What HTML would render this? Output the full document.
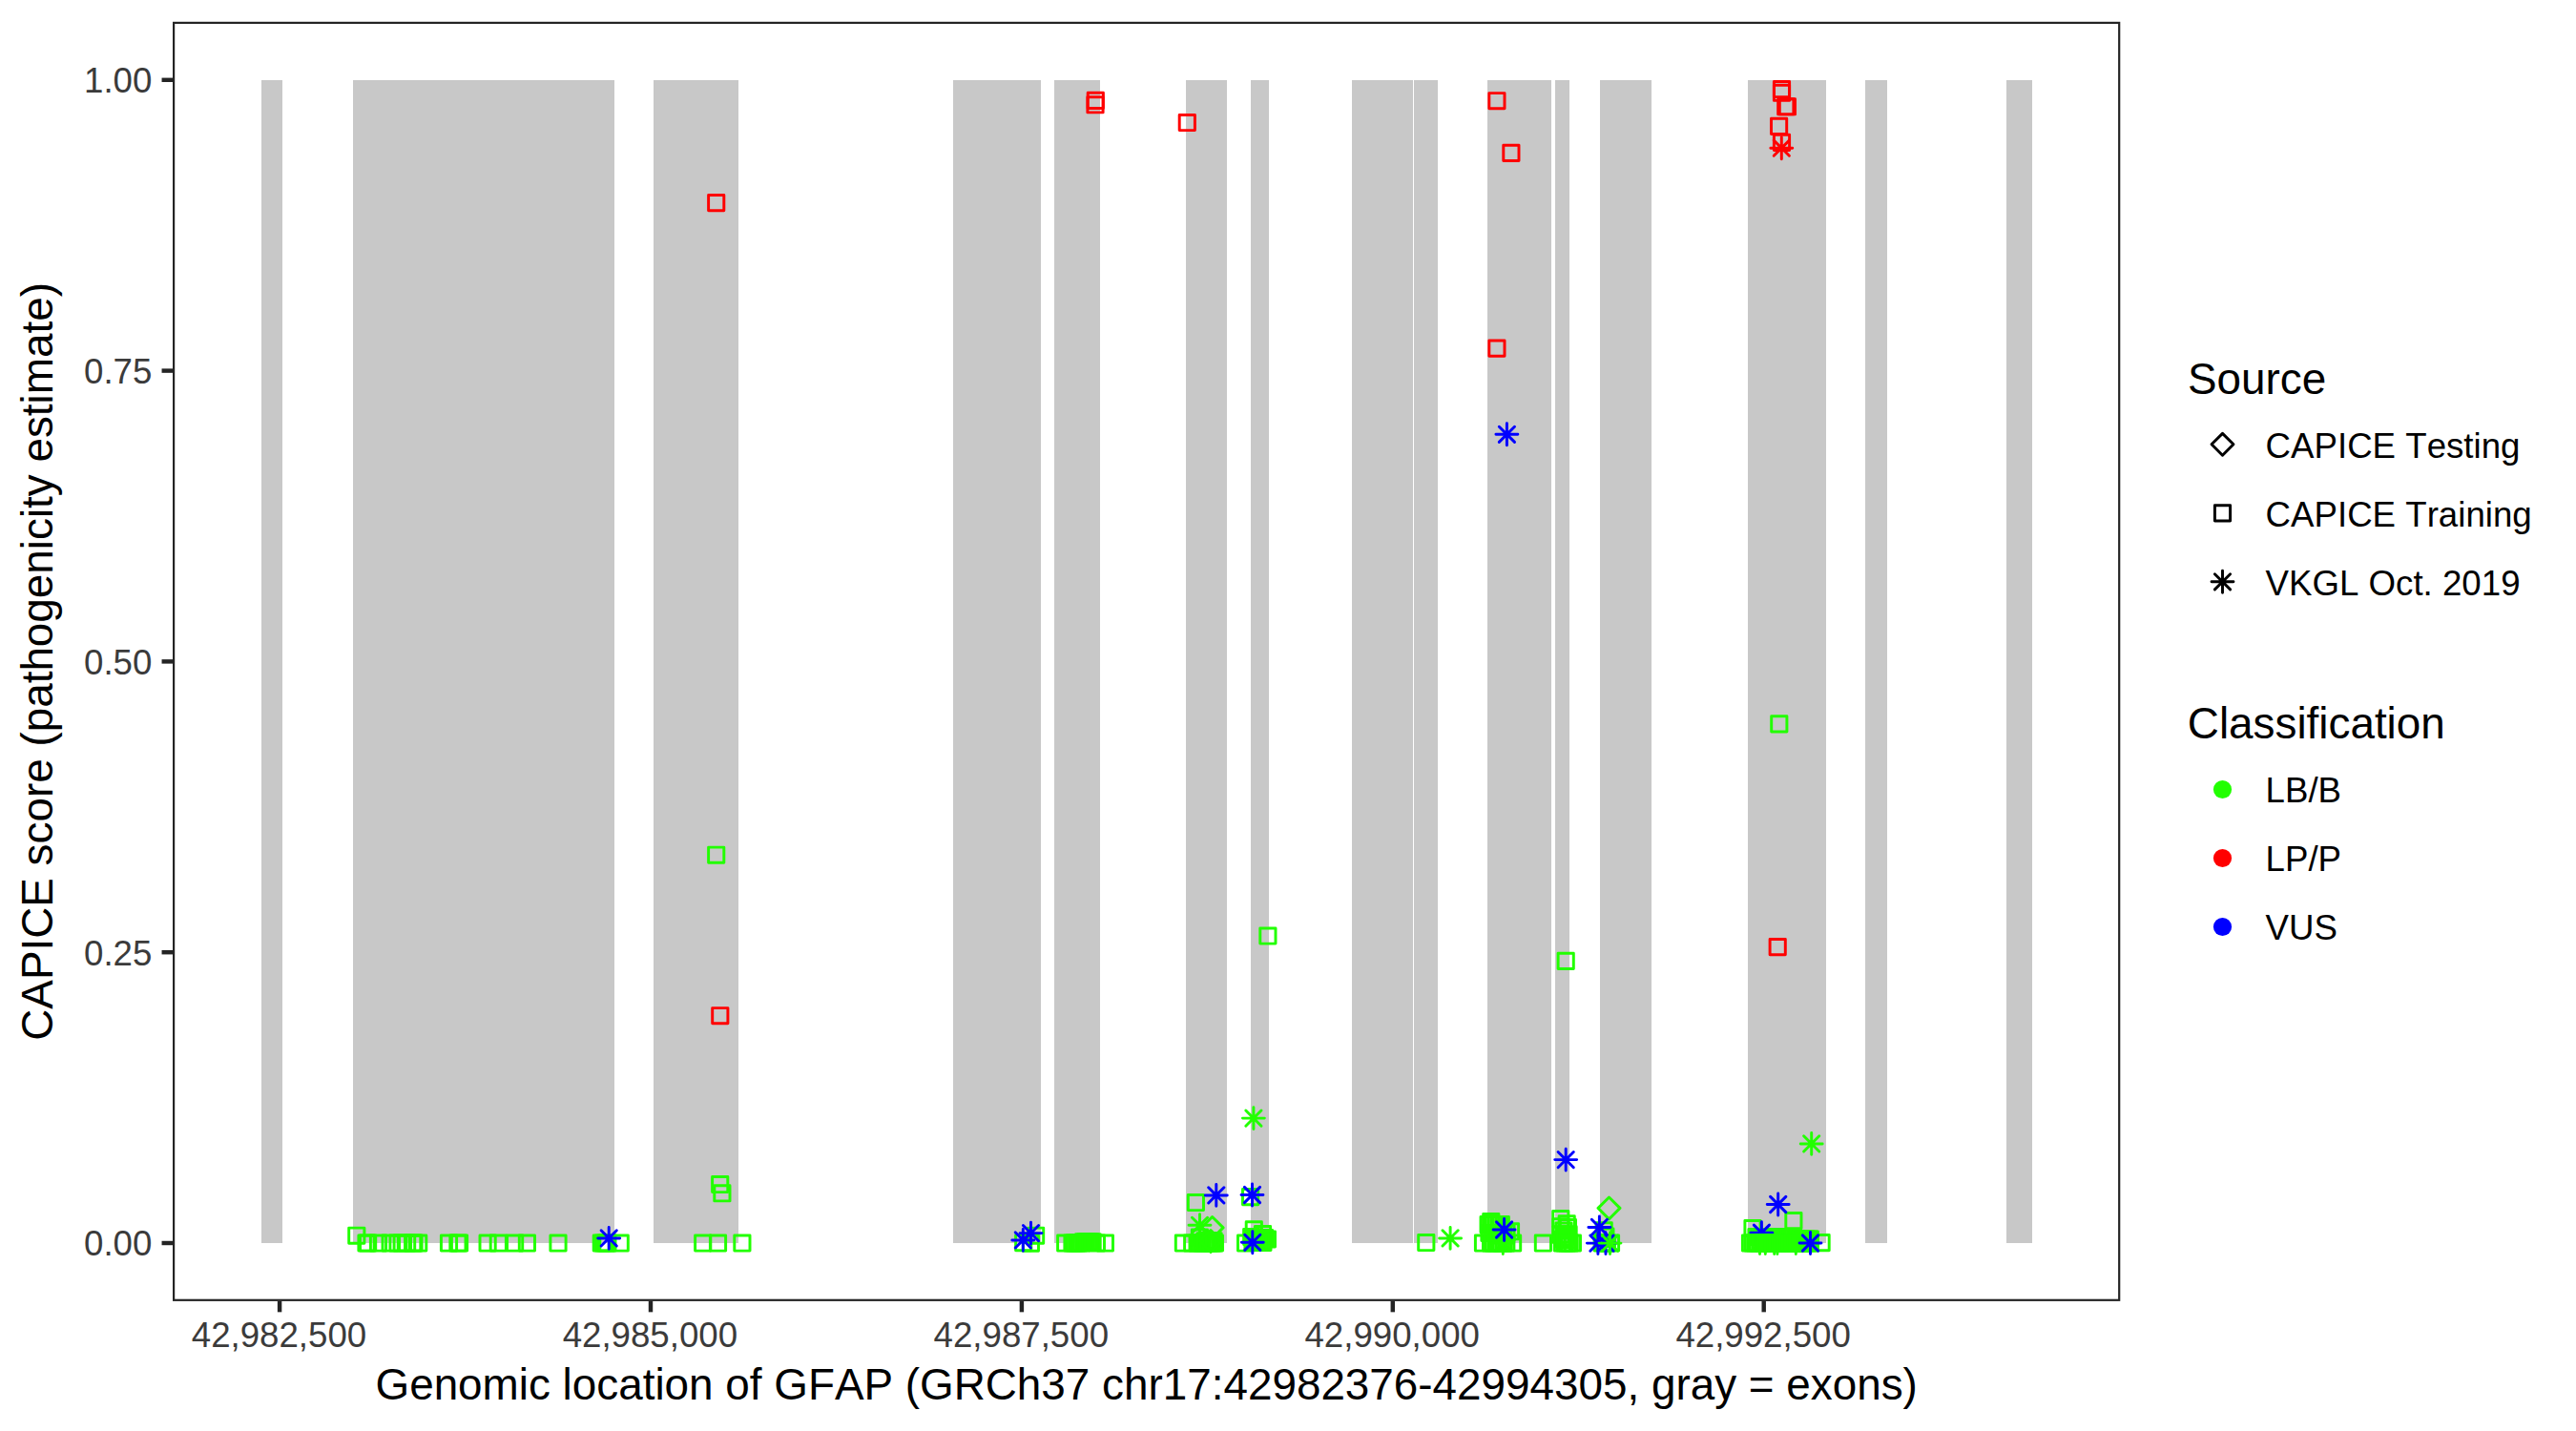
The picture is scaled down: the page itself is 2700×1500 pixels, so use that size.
<!DOCTYPE html>
<html><head><meta charset="utf-8"><title>CAPICE GFAP</title>
<style>
html,body{margin:0;padding:0;background:#fff}
svg{display:block}
text{font-family:"Liberation Sans",Arial,Helvetica,sans-serif;font-kerning:none;font-variant-ligatures:none}
.tk{font-size:36.67px;fill:#3B3B3B}
.lt{font-size:36.67px;fill:#000}
.ti{font-size:45.83px;fill:#000}
.pt *{fill:none;stroke-width:2.95;stroke-linejoin:round;stroke-linecap:round}
</style></head><body>
<svg width="2700" height="1500" viewBox="0 0 2700 1500">
<rect width="2700" height="1500" fill="#fff"/>
<g fill="#C8C8C8" shape-rendering="crispEdges">
<rect x="274" y="83.8" width="21.8" height="1219.2"/>
<rect x="370.1" y="83.8" width="273.7" height="1219.2"/>
<rect x="685" y="83.8" width="88.8" height="1219.2"/>
<rect x="999" y="83.8" width="91.8" height="1219.2"/>
<rect x="1105" y="83.8" width="47.7" height="1219.2"/>
<rect x="1243.1" y="83.8" width="42.8" height="1219.2"/>
<rect x="1311" y="83.8" width="18.9" height="1219.2"/>
<rect x="1417.1" y="83.8" width="64.05" height="1219.2"/>
<rect x="1481.6" y="83.8" width="25.4" height="1219.2"/>
<rect x="1558.9" y="83.8" width="67" height="1219.2"/>
<rect x="1630.1" y="83.8" width="14.75" height="1219.2"/>
<rect x="1677" y="83.8" width="54" height="1219.2"/>
<rect x="1832" y="83.8" width="81.9" height="1219.2"/>
<rect x="1955.1" y="83.8" width="22.7" height="1219.2"/>
<rect x="2103" y="83.8" width="26.9" height="1219.2"/>
</g>
<g class="pt">
<rect x="742.6" y="204.5" width="16.2" height="16.2" stroke="#FF0000"/>
<rect x="1140.2" y="97.3" width="16.2" height="16.2" stroke="#FF0000"/>
<rect x="1139.9" y="101.7" width="16.2" height="16.2" stroke="#FF0000"/>
<rect x="1236.2" y="120.4" width="16.2" height="16.2" stroke="#FF0000"/>
<rect x="1560.8" y="97.6" width="16.2" height="16.2" stroke="#FF0000"/>
<rect x="1575.8" y="152.3" width="16.2" height="16.2" stroke="#FF0000"/>
<rect x="1560.8" y="357" width="16.2" height="16.2" stroke="#FF0000"/>
<rect x="1859.4" y="85.4" width="16.2" height="16.2" stroke="#FF0000"/>
<rect x="1859.4" y="89.2" width="16.2" height="16.2" stroke="#FF0000"/>
<rect x="1863.7" y="103.7" width="16.2" height="16.2" stroke="#FF0000"/>
<rect x="1865.3" y="103.7" width="16.2" height="16.2" stroke="#FF0000"/>
<rect x="1856.5" y="124.3" width="16.2" height="16.2" stroke="#FF0000"/>
<rect x="1859.4" y="141.2" width="16.2" height="16.2" stroke="#FF0000"/>
<path d="M1855.84 155.2h22.91M1867.3 143.74v22.91M1859.2 147.1l16.2 16.2M1859.2 163.3l16.2 -16.2" stroke="#FF0000"/>
<rect x="742.6" y="888.1" width="16.2" height="16.2" stroke="#22FF00"/>
<rect x="746.7" y="1056.6" width="16.2" height="16.2" stroke="#FF0000"/>
<rect x="746.6" y="1233.4" width="16.2" height="16.2" stroke="#22FF00"/>
<rect x="748.8" y="1242.7" width="16.2" height="16.2" stroke="#22FF00"/>
<rect x="1320.8" y="972.9" width="16.2" height="16.2" stroke="#22FF00"/>
<rect x="1633.1" y="999.2" width="16.2" height="16.2" stroke="#22FF00"/>
<rect x="1855.1" y="984.5" width="16.2" height="16.2" stroke="#FF0000"/>
<rect x="1856.7" y="750.8" width="16.2" height="16.2" stroke="#22FF00"/>
<path d="M1567.94 455.3h22.91M1579.4 443.84v22.91M1571.3 447.2l16.2 16.2M1571.3 463.4l16.2 -16.2" stroke="#0000FF"/>
<rect x="365.7" y="1287.1" width="16.2" height="16.2" stroke="#22FF00"/>
<rect x="375.9" y="1294.9" width="16.2" height="16.2" stroke="#22FF00"/>
<rect x="377.5" y="1294.9" width="16.2" height="16.2" stroke="#22FF00"/>
<rect x="388.4" y="1294.9" width="16.2" height="16.2" stroke="#22FF00"/>
<rect x="401" y="1294.9" width="16.2" height="16.2" stroke="#22FF00"/>
<rect x="408.9" y="1294.9" width="16.2" height="16.2" stroke="#22FF00"/>
<rect x="413.1" y="1294.9" width="16.2" height="16.2" stroke="#22FF00"/>
<rect x="418.5" y="1294.9" width="16.2" height="16.2" stroke="#22FF00"/>
<rect x="424.6" y="1294.9" width="16.2" height="16.2" stroke="#22FF00"/>
<rect x="425.9" y="1294.9" width="16.2" height="16.2" stroke="#22FF00"/>
<rect x="430.6" y="1294.9" width="16.2" height="16.2" stroke="#22FF00"/>
<rect x="462.4" y="1294.9" width="16.2" height="16.2" stroke="#22FF00"/>
<rect x="471.8" y="1294.9" width="16.2" height="16.2" stroke="#22FF00"/>
<rect x="473.4" y="1294.9" width="16.2" height="16.2" stroke="#22FF00"/>
<rect x="503" y="1294.9" width="16.2" height="16.2" stroke="#22FF00"/>
<rect x="514.2" y="1294.9" width="16.2" height="16.2" stroke="#22FF00"/>
<rect x="531.5" y="1294.9" width="16.2" height="16.2" stroke="#22FF00"/>
<rect x="544.3" y="1294.9" width="16.2" height="16.2" stroke="#22FF00"/>
<rect x="576.9" y="1294.9" width="16.2" height="16.2" stroke="#22FF00"/>
<rect x="622.2" y="1294.9" width="16.2" height="16.2" stroke="#22FF00"/>
<rect x="624.5" y="1294.9" width="16.2" height="16.2" stroke="#22FF00"/>
<rect x="626.9" y="1294.9" width="16.2" height="16.2" stroke="#22FF00"/>
<rect x="628.8" y="1294.9" width="16.2" height="16.2" stroke="#22FF00"/>
<rect x="642.1" y="1294.9" width="16.2" height="16.2" stroke="#22FF00"/>
<path d="M626.74 1297.9h22.91M638.2 1286.44v22.91M630.1 1289.8l16.2 16.2M630.1 1306l16.2 -16.2" stroke="#0000FF"/>
<rect x="728.6" y="1294.9" width="16.2" height="16.2" stroke="#22FF00"/>
<rect x="744.4" y="1294.9" width="16.2" height="16.2" stroke="#22FF00"/>
<rect x="769.8" y="1294.9" width="16.2" height="16.2" stroke="#22FF00"/>
<rect x="1064.6" y="1294.6" width="16.2" height="16.2" stroke="#22FF00"/>
<rect x="1072.3" y="1295" width="16.2" height="16.2" stroke="#22FF00"/>
<rect x="1077.5" y="1287.1" width="16.2" height="16.2" stroke="#22FF00"/>
<path d="M1060.84 1299.9h22.91M1072.3 1288.44v22.91M1064.2 1291.8l16.2 16.2M1064.2 1308l16.2 -16.2" stroke="#0000FF"/>
<path d="M1069.04 1292.6h22.91M1080.5 1281.14v22.91M1072.4 1284.5l16.2 16.2M1072.4 1300.7l16.2 -16.2" stroke="#0000FF"/>
<rect x="1108.6" y="1294.9" width="16.2" height="16.2" stroke="#22FF00"/>
<rect x="1115.9" y="1294.9" width="16.2" height="16.2" stroke="#22FF00"/>
<rect x="1118.24" y="1294.9" width="16.2" height="16.2" stroke="#22FF00"/>
<rect x="1120.59" y="1294.9" width="16.2" height="16.2" stroke="#22FF00"/>
<rect x="1122.93" y="1294.9" width="16.2" height="16.2" stroke="#22FF00"/>
<rect x="1125.28" y="1294.9" width="16.2" height="16.2" stroke="#22FF00"/>
<rect x="1127.62" y="1293.7" width="16.2" height="16.2" stroke="#22FF00"/>
<rect x="1129.97" y="1293.7" width="16.2" height="16.2" stroke="#22FF00"/>
<rect x="1132.31" y="1293.7" width="16.2" height="16.2" stroke="#22FF00"/>
<rect x="1134.66" y="1293.7" width="16.2" height="16.2" stroke="#22FF00"/>
<rect x="1137" y="1293.7" width="16.2" height="16.2" stroke="#22FF00"/>
<rect x="1141.3" y="1294.9" width="16.2" height="16.2" stroke="#22FF00"/>
<rect x="1150.3" y="1294.9" width="16.2" height="16.2" stroke="#22FF00"/>
<rect x="1232.3" y="1294.9" width="16.2" height="16.2" stroke="#22FF00"/>
<rect x="1241.6" y="1294.9" width="16.2" height="16.2" stroke="#22FF00"/>
<rect x="1247" y="1294.9" width="16.2" height="16.2" stroke="#22FF00"/>
<rect x="1249.5" y="1294.9" width="16.2" height="16.2" stroke="#22FF00"/>
<rect x="1252" y="1294.9" width="16.2" height="16.2" stroke="#22FF00"/>
<rect x="1254.5" y="1294.9" width="16.2" height="16.2" stroke="#22FF00"/>
<rect x="1257" y="1294.9" width="16.2" height="16.2" stroke="#22FF00"/>
<rect x="1259.5" y="1294.9" width="16.2" height="16.2" stroke="#22FF00"/>
<rect x="1262" y="1294.9" width="16.2" height="16.2" stroke="#22FF00"/>
<rect x="1263.9" y="1294.9" width="16.2" height="16.2" stroke="#22FF00"/>
<rect x="1265.3" y="1294.9" width="16.2" height="16.2" stroke="#22FF00"/>
<rect x="1249.3" y="1288.9" width="16.2" height="16.2" stroke="#22FF00"/>
<rect x="1254.9" y="1292.6" width="16.2" height="16.2" stroke="#22FF00"/>
<rect x="1257.9" y="1292.6" width="16.2" height="16.2" stroke="#22FF00"/>
<rect x="1260.9" y="1292.6" width="16.2" height="16.2" stroke="#22FF00"/>
<rect x="1263.9" y="1292.6" width="16.2" height="16.2" stroke="#22FF00"/>
<rect x="1245.3" y="1252.4" width="16.2" height="16.2" stroke="#22FF00"/>
<path d="M1246.04 1284.3h22.91M1257.5 1272.84v22.91M1249.4 1276.2l16.2 16.2M1249.4 1292.4l16.2 -16.2" stroke="#22FF00"/>
<path d="M1259.14 1286.9L1270.6 1275.44L1282.06 1286.9L1270.6 1298.36Z" stroke="#22FF00"/>
<path d="M1257.54 1301.1L1269 1289.64L1280.46 1301.1L1269 1312.56Z" stroke="#22FF00"/>
<path d="M1263.34 1252.9h22.91M1274.8 1241.44v22.91M1266.7 1244.8l16.2 16.2M1266.7 1261l16.2 -16.2" stroke="#0000FF"/>
<path d="M1302.44 1172.1h22.91M1313.9 1160.64v22.91M1305.8 1164l16.2 16.2M1305.8 1180.2l16.2 -16.2" stroke="#22FF00"/>
<rect x="1302.5" y="1246.5" width="16.2" height="16.2" stroke="#22FF00"/>
<path d="M1301.04 1252.5h22.91M1312.5 1241.04v22.91M1304.4 1244.4l16.2 16.2M1304.4 1260.6l16.2 -16.2" stroke="#0000FF"/>
<rect x="1297.5" y="1294.9" width="16.2" height="16.2" stroke="#22FF00"/>
<rect x="1306.2" y="1280.7" width="16.2" height="16.2" stroke="#22FF00"/>
<rect x="1315.4" y="1285.4" width="16.2" height="16.2" stroke="#22FF00"/>
<rect x="1303.6" y="1288.4" width="16.2" height="16.2" stroke="#22FF00"/>
<rect x="1320.3" y="1290.9" width="16.2" height="16.2" stroke="#22FF00"/>
<rect x="1306.4" y="1291.4" width="16.2" height="16.2" stroke="#22FF00"/>
<rect x="1309.1" y="1289.4" width="16.2" height="16.2" stroke="#22FF00"/>
<rect x="1311.9" y="1290.9" width="16.2" height="16.2" stroke="#22FF00"/>
<rect x="1314.4" y="1292.9" width="16.2" height="16.2" stroke="#22FF00"/>
<rect x="1307.9" y="1294.3" width="16.2" height="16.2" stroke="#22FF00"/>
<rect x="1310.9" y="1294.3" width="16.2" height="16.2" stroke="#22FF00"/>
<rect x="1313.4" y="1294.3" width="16.2" height="16.2" stroke="#22FF00"/>
<rect x="1315.8" y="1294.3" width="16.2" height="16.2" stroke="#22FF00"/>
<rect x="1317.4" y="1289.4" width="16.2" height="16.2" stroke="#22FF00"/>
<rect x="1304.9" y="1294.3" width="16.2" height="16.2" stroke="#22FF00"/>
<path d="M1301.34 1302.3h22.91M1312.8 1290.84v22.91M1304.7 1294.2l16.2 16.2M1304.7 1310.4l16.2 -16.2" stroke="#0000FF"/>
<rect x="1486.7" y="1294.4" width="16.2" height="16.2" stroke="#22FF00"/>
<path d="M1508.64 1297.9h22.91M1520.1 1286.44v22.91M1512 1289.8l16.2 16.2M1512 1306l16.2 -16.2" stroke="#22FF00"/>
<rect x="1546.4" y="1294.9" width="16.2" height="16.2" stroke="#22FF00"/>
<rect x="1554.5" y="1294.9" width="16.2" height="16.2" stroke="#22FF00"/>
<rect x="1557.2" y="1294.9" width="16.2" height="16.2" stroke="#22FF00"/>
<rect x="1559.9" y="1294.9" width="16.2" height="16.2" stroke="#22FF00"/>
<rect x="1562.6" y="1294.9" width="16.2" height="16.2" stroke="#22FF00"/>
<rect x="1565.3" y="1294.9" width="16.2" height="16.2" stroke="#22FF00"/>
<rect x="1568" y="1294.9" width="16.2" height="16.2" stroke="#22FF00"/>
<rect x="1570.7" y="1294.9" width="16.2" height="16.2" stroke="#22FF00"/>
<rect x="1577.5" y="1294.9" width="16.2" height="16.2" stroke="#22FF00"/>
<rect x="1554.7" y="1272.4" width="16.2" height="16.2" stroke="#22FF00"/>
<rect x="1552" y="1275.5" width="16.2" height="16.2" stroke="#22FF00"/>
<rect x="1554.7" y="1275.5" width="16.2" height="16.2" stroke="#22FF00"/>
<rect x="1557.4" y="1275.5" width="16.2" height="16.2" stroke="#22FF00"/>
<rect x="1560.1" y="1275.5" width="16.2" height="16.2" stroke="#22FF00"/>
<rect x="1562.8" y="1275.5" width="16.2" height="16.2" stroke="#22FF00"/>
<rect x="1565.2" y="1275.5" width="16.2" height="16.2" stroke="#22FF00"/>
<rect x="1552.9" y="1284.4" width="16.2" height="16.2" stroke="#22FF00"/>
<rect x="1555.9" y="1284.4" width="16.2" height="16.2" stroke="#22FF00"/>
<rect x="1558.9" y="1284.4" width="16.2" height="16.2" stroke="#22FF00"/>
<rect x="1561.9" y="1284.4" width="16.2" height="16.2" stroke="#22FF00"/>
<rect x="1564.9" y="1284.4" width="16.2" height="16.2" stroke="#22FF00"/>
<rect x="1567.9" y="1284.4" width="16.2" height="16.2" stroke="#22FF00"/>
<rect x="1570.9" y="1284.4" width="16.2" height="16.2" stroke="#22FF00"/>
<rect x="1575.4" y="1282.7" width="16.2" height="16.2" stroke="#22FF00"/>
<path d="M1563.84 1303h22.91M1575.3 1291.54v22.91M1567.2 1294.9l16.2 16.2M1567.2 1311.1l16.2 -16.2" stroke="#22FF00"/>
<path d="M1565.14 1289h22.91M1576.6 1277.54v22.91M1568.5 1280.9l16.2 16.2M1568.5 1297.1l16.2 -16.2" stroke="#0000FF"/>
<rect x="1609.3" y="1294.9" width="16.2" height="16.2" stroke="#22FF00"/>
<rect x="1627.7" y="1269.4" width="16.2" height="16.2" stroke="#22FF00"/>
<rect x="1634.1" y="1274.8" width="16.2" height="16.2" stroke="#22FF00"/>
<rect x="1627.9" y="1277.6" width="16.2" height="16.2" stroke="#22FF00"/>
<rect x="1635.3" y="1278.5" width="16.2" height="16.2" stroke="#22FF00"/>
<rect x="1636" y="1285.7" width="16.2" height="16.2" stroke="#22FF00"/>
<rect x="1627.7" y="1286.2" width="16.2" height="16.2" stroke="#22FF00"/>
<rect x="1630.9" y="1281.9" width="16.2" height="16.2" stroke="#22FF00"/>
<rect x="1632.9" y="1288.4" width="16.2" height="16.2" stroke="#22FF00"/>
<rect x="1630.4" y="1290.9" width="16.2" height="16.2" stroke="#22FF00"/>
<rect x="1634.9" y="1291.4" width="16.2" height="16.2" stroke="#22FF00"/>
<rect x="1629.3" y="1294.9" width="16.2" height="16.2" stroke="#22FF00"/>
<rect x="1631.9" y="1294.9" width="16.2" height="16.2" stroke="#22FF00"/>
<rect x="1634.5" y="1294.9" width="16.2" height="16.2" stroke="#22FF00"/>
<rect x="1637.1" y="1294.9" width="16.2" height="16.2" stroke="#22FF00"/>
<rect x="1640.3" y="1294.9" width="16.2" height="16.2" stroke="#22FF00"/>
<path d="M1629.74 1215.6h22.91M1641.2 1204.14v22.91M1633.1 1207.5l16.2 16.2M1633.1 1223.7l16.2 -16.2" stroke="#0000FF"/>
<path d="M1675.04 1266.4L1686.5 1254.94L1697.96 1266.4L1686.5 1277.86Z" stroke="#22FF00"/>
<rect x="1673.1" y="1281.7" width="16.2" height="16.2" stroke="#22FF00"/>
<rect x="1674.8" y="1287.9" width="16.2" height="16.2" stroke="#22FF00"/>
<rect x="1671.1" y="1294.9" width="16.2" height="16.2" stroke="#22FF00"/>
<rect x="1673.7" y="1294.9" width="16.2" height="16.2" stroke="#22FF00"/>
<rect x="1676.3" y="1294.9" width="16.2" height="16.2" stroke="#22FF00"/>
<rect x="1680.4" y="1294.9" width="16.2" height="16.2" stroke="#22FF00"/>
<path d="M1664.94 1286.4h22.91M1676.4 1274.94v22.91M1668.3 1278.3l16.2 16.2M1668.3 1294.5l16.2 -16.2" stroke="#0000FF"/>
<path d="M1663.44 1303.1h22.91M1674.9 1291.64v22.91M1666.8 1295l16.2 16.2M1666.8 1311.2l16.2 -16.2" stroke="#0000FF"/>
<path d="M1671.54 1303.1h22.91M1683 1291.64v22.91M1674.9 1295l16.2 16.2M1674.9 1311.2l16.2 -16.2" stroke="#0000FF"/>
<path d="M1676.04 1303.1h22.91M1687.5 1291.64v22.91M1679.4 1295l16.2 16.2M1679.4 1311.2l16.2 -16.2" stroke="#22FF00"/>
<rect x="1828.9" y="1279.4" width="16.2" height="16.2" stroke="#22FF00"/>
<rect x="1871.8" y="1271.4" width="16.2" height="16.2" stroke="#22FF00"/>
<rect x="1832.9" y="1288.4" width="16.2" height="16.2" stroke="#22FF00"/>
<rect x="1835.65" y="1288.4" width="16.2" height="16.2" stroke="#22FF00"/>
<rect x="1838.4" y="1288.4" width="16.2" height="16.2" stroke="#22FF00"/>
<rect x="1841.15" y="1288.4" width="16.2" height="16.2" stroke="#22FF00"/>
<rect x="1843.9" y="1288.4" width="16.2" height="16.2" stroke="#22FF00"/>
<rect x="1846.65" y="1288.4" width="16.2" height="16.2" stroke="#22FF00"/>
<rect x="1849.4" y="1288.4" width="16.2" height="16.2" stroke="#22FF00"/>
<rect x="1852.15" y="1288.4" width="16.2" height="16.2" stroke="#22FF00"/>
<rect x="1854.9" y="1288.4" width="16.2" height="16.2" stroke="#22FF00"/>
<rect x="1857.65" y="1288.4" width="16.2" height="16.2" stroke="#22FF00"/>
<rect x="1860.4" y="1288.4" width="16.2" height="16.2" stroke="#22FF00"/>
<rect x="1863.15" y="1288.4" width="16.2" height="16.2" stroke="#22FF00"/>
<rect x="1865.9" y="1288.4" width="16.2" height="16.2" stroke="#22FF00"/>
<rect x="1868.65" y="1288.4" width="16.2" height="16.2" stroke="#22FF00"/>
<rect x="1871.4" y="1288.4" width="16.2" height="16.2" stroke="#22FF00"/>
<rect x="1875.9" y="1291" width="16.2" height="16.2" stroke="#22FF00"/>
<rect x="1878.9" y="1291" width="16.2" height="16.2" stroke="#22FF00"/>
<rect x="1881.9" y="1291" width="16.2" height="16.2" stroke="#22FF00"/>
<rect x="1884.9" y="1291" width="16.2" height="16.2" stroke="#22FF00"/>
<rect x="1887.9" y="1291" width="16.2" height="16.2" stroke="#22FF00"/>
<rect x="1889.2" y="1291" width="16.2" height="16.2" stroke="#22FF00"/>
<path d="M1833.04 1303h22.91M1844.5 1291.54v22.91M1836.4 1294.9l16.2 16.2M1836.4 1311.1l16.2 -16.2" stroke="#22FF00"/>
<path d="M1838.84 1303h22.91M1850.3 1291.54v22.91M1842.2 1294.9l16.2 16.2M1842.2 1311.1l16.2 -16.2" stroke="#22FF00"/>
<path d="M1848.24 1303h22.91M1859.7 1291.54v22.91M1851.6 1294.9l16.2 16.2M1851.6 1311.1l16.2 -16.2" stroke="#22FF00"/>
<path d="M1851.44 1303h22.91M1862.9 1291.54v22.91M1854.8 1294.9l16.2 16.2M1854.8 1311.1l16.2 -16.2" stroke="#22FF00"/>
<path d="M1870.84 1303h22.91M1882.3 1291.54v22.91M1874.2 1294.9l16.2 16.2M1874.2 1311.1l16.2 -16.2" stroke="#22FF00"/>
<path d="M1834.94 1292.2h22.91M1846.4 1280.74v22.91M1838.3 1284.1l16.2 16.2M1838.3 1300.3l16.2 -16.2" stroke="#0000FF"/>
<rect x="1826.4" y="1294.9" width="16.2" height="16.2" stroke="#22FF00"/>
<rect x="1829.02" y="1294.9" width="16.2" height="16.2" stroke="#22FF00"/>
<rect x="1831.64" y="1294.9" width="16.2" height="16.2" stroke="#22FF00"/>
<rect x="1834.26" y="1294.9" width="16.2" height="16.2" stroke="#22FF00"/>
<rect x="1836.88" y="1294.9" width="16.2" height="16.2" stroke="#22FF00"/>
<rect x="1839.5" y="1294.9" width="16.2" height="16.2" stroke="#22FF00"/>
<rect x="1842.12" y="1294.9" width="16.2" height="16.2" stroke="#22FF00"/>
<rect x="1844.74" y="1294.9" width="16.2" height="16.2" stroke="#22FF00"/>
<rect x="1847.36" y="1294.9" width="16.2" height="16.2" stroke="#22FF00"/>
<rect x="1849.98" y="1294.9" width="16.2" height="16.2" stroke="#22FF00"/>
<rect x="1852.6" y="1294.9" width="16.2" height="16.2" stroke="#22FF00"/>
<rect x="1855.22" y="1294.9" width="16.2" height="16.2" stroke="#22FF00"/>
<rect x="1857.84" y="1294.9" width="16.2" height="16.2" stroke="#22FF00"/>
<rect x="1860.46" y="1294.9" width="16.2" height="16.2" stroke="#22FF00"/>
<rect x="1863.08" y="1294.9" width="16.2" height="16.2" stroke="#22FF00"/>
<rect x="1865.7" y="1294.9" width="16.2" height="16.2" stroke="#22FF00"/>
<rect x="1868.32" y="1294.9" width="16.2" height="16.2" stroke="#22FF00"/>
<rect x="1870.94" y="1294.9" width="16.2" height="16.2" stroke="#22FF00"/>
<rect x="1873.56" y="1294.9" width="16.2" height="16.2" stroke="#22FF00"/>
<rect x="1876.18" y="1294.9" width="16.2" height="16.2" stroke="#22FF00"/>
<rect x="1878.8" y="1294.9" width="16.2" height="16.2" stroke="#22FF00"/>
<rect x="1881.42" y="1294.9" width="16.2" height="16.2" stroke="#22FF00"/>
<rect x="1884.04" y="1294.9" width="16.2" height="16.2" stroke="#22FF00"/>
<rect x="1886.66" y="1294.9" width="16.2" height="16.2" stroke="#22FF00"/>
<rect x="1889.28" y="1294.9" width="16.2" height="16.2" stroke="#22FF00"/>
<rect x="1901" y="1294.5" width="16.2" height="16.2" stroke="#22FF00"/>
<path d="M1852.24 1262.5h22.91M1863.7 1251.04v22.91M1855.6 1254.4l16.2 16.2M1855.6 1270.6l16.2 -16.2" stroke="#0000FF"/>
<path d="M1886.04 1303h22.91M1897.5 1291.54v22.91M1889.4 1294.9l16.2 16.2M1889.4 1311.1l16.2 -16.2" stroke="#0000FF"/>
<path d="M1887.24 1198.9h22.91M1898.7 1187.44v22.91M1890.6 1190.8l16.2 16.2M1890.6 1207l16.2 -16.2" stroke="#22FF00"/>
</g>
<rect x="182.1" y="23.9" width="2039.1" height="1338.9" fill="none" stroke="#242424" stroke-width="2.2"/>
<g stroke="#242424" stroke-width="4.45">
<path d="M169.54 1303H181"/>
<path d="M169.54 998.2H181"/>
<path d="M169.54 693.4H181"/>
<path d="M169.54 388.6H181"/>
<path d="M169.54 83.8H181"/>
<path d="M293.09 1363.9V1375.36"/>
<path d="M681.99 1363.9V1375.36"/>
<path d="M1070.9 1363.9V1375.36"/>
<path d="M1459.8 1363.9V1375.36"/>
<path d="M1848.71 1363.9V1375.36"/>
</g>
<g class="tk" text-anchor="end">
<text x="159.4" y="1316.3">0.00</text>
<text x="159.4" y="1011.5">0.25</text>
<text x="159.4" y="706.7">0.50</text>
<text x="159.4" y="401.9">0.75</text>
<text x="159.4" y="97.1">1.00</text>
</g>
<g class="tk" text-anchor="middle">
<text x="292.49" y="1412.1">42,982,500</text>
<text x="681.39" y="1412.1">42,985,000</text>
<text x="1070.3" y="1412.1">42,987,500</text>
<text x="1459.2" y="1412.1">42,990,000</text>
<text x="1848.11" y="1412.1">42,992,500</text>
</g>
<text class="ti" text-anchor="middle" x="1201.7" y="1466.6">Genomic location of GFAP (GRCh37 chr17:42982376-42994305, gray = exons)</text>
<text class="ti" text-anchor="middle" transform="translate(54.8 693.4) rotate(-90)">CAPICE score (pathogenicity estimate)</text>
<text class="ti" x="2293" y="413">Source</text>
<text class="ti" x="2292.8" y="773.5">Classification</text>
<g class="pt">
<path d="M2318.04 465.8L2329.5 454.34L2340.96 465.8L2329.5 477.26Z" stroke="#000"/>
<rect x="2321.4" y="529.7" width="16.2" height="16.2" stroke="#000"/>
<path d="M2318.04 609.8h22.91M2329.5 598.34v22.91M2321.4 601.7l16.2 16.2M2321.4 617.9l16.2 -16.2" stroke="#000"/>
</g>
<circle cx="2329.5" cy="827.5" r="9.6" fill="#22FF00"/>
<circle cx="2329.5" cy="899.5" r="9.6" fill="#FF0000"/>
<circle cx="2329.5" cy="971.5" r="9.6" fill="#0000FF"/>
<text class="lt" x="2374.6" y="479.5">CAPICE Testing</text>
<text class="lt" x="2374.6" y="551.5">CAPICE Training</text>
<text class="lt" x="2374.6" y="623.5">VKGL Oct. 2019</text>
<text class="lt" x="2374.6" y="841.2">LB/B</text>
<text class="lt" x="2374.6" y="913.2">LP/P</text>
<text class="lt" x="2374.6" y="985.2">VUS</text>
</svg></body></html>
